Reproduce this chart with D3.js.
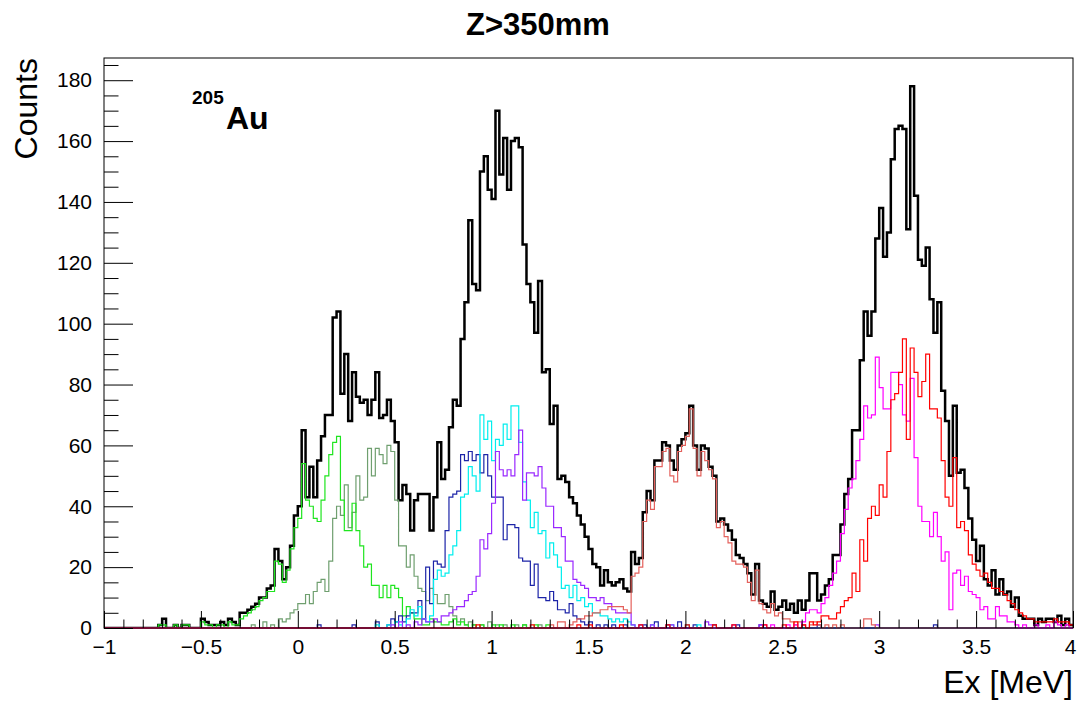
<!DOCTYPE html>
<html>
<head>
<meta charset="utf-8">
<script src="https://cdn.jsdelivr.net/npm/d3@7"></script>
<style>
  body { margin: 0; background: #fff; }
  text { font-family: "Liberation Sans", Arial, Helvetica, sans-serif; }
</style>
</head>
<body>
<svg id="chart" width="1077" height="702"></svg>
<script>
// binning of the Ex histograms (MeV)
const exLow = -1;
const exHigh = 4;
const binWidth = 0.02;
const countsTop = 187.3;

const xMajorTicks = [-1, -0.5, 0, 0.5, 1, 1.5, 2, 2.5, 3, 3.5, 4];
const yMajorTicks = [0, 20, 40, 60, 80, 100, 120, 140, 160, 180];

// every series: Ex of the low edge of its first listed bin + counts per 0.02 MeV bin
const totalFrom = -0.72;
const totalCounts = [
  1,3,0,0,1,0,1,1,0,0,0,
  3,2,1,1,1,2,1,3,2,1,
  5,5,6,7,8,10,10,13,14,26,
  22,16,20,27,37,40,65,43,53,43,
  55,63,70,70,102,104,77,90,68,84,
  76,74,75,70,75,84,69,70,75,68,
  61,42,47,44,32,42,44,44,44,32,
  43,61,49,52,66,75,73,95,107,134,
  113,111,150,155,144,141,170,149,161,144,
  160,161,158,126,113,107,97,114,84,85,
  67,73,49,50,48,43,41,37,34,30,
  26,21,20,14,19,15,14,15,16,13,
  12,25,21,23,38,45,42,55,55,61,
  60,55,52,60,62,64,73,60,52,60,
  59,53,50,35,36,34,32,29,24,23,
  21,18,11,21,9,8,7,12,6,7,
  9,6,8,5,9,6,9,18,18,9,
  11,14,16,24,24,34,44,49,65,65,
  88,104,96,104,128,138,122,130,154,164,
  165,164,131,178,142,121,119,125,108,97,
  107,78,68,50,73,51,52,46,36,29,
  22,27,16,14,19,11,16,11,12,7,
  10,4,3,3,3,1,3,2,3,3,
  2,4,1,3,1
];

const greenFrom = -0.72;
const greenCounts = [
  1,1,0,0,1,0,1,1,0,0,0,
  2,1,1,0,1,1,0,2,1,1,
  3,4,5,6,7,9,10,12,12,22,
  21,15,19,26,33,36,54,42,40,36,
  35,42,50,57,61,63,42,32,32,41,
  32,27,20,21,14,14,10,14,10,14,
  13,10,4,7,5,3,3,1,1,3,
  2,2,1,1,2,3,1,2,1,0,
  1,0,1,0,0,1,0,1,0,0,
  1,0,0,1,0,0,1,0,0,1
];

const sageFrom = -0.28;
const sageCounts = [
  0,0,1,0,0,2,0,1,0,
  3,2,3,5,6,8,8,11,8,12,
  15,16,12,22,36,40,37,47,33,38,
  50,42,43,59,50,59,57,54,60,58,
  42,27,27,20,24,17,13,12,9,13,
  11,8,8,11,7,4,2,3,1,2,
  1,0,1,0,2,0,1,0,1,0,
  0,1,0,1,0,0,0,1
];

const blueFrom = 0.10;
const blueCounts = [
  1,0,0,0,0,0,0,0,0,1,
  0,0,0,0,0,2,0,0,1,3,
  2,4,2,4,5,5,9,3,20,8,
  22,21,20,32,43,44,45,57,55,58,
  55,57,51,57,50,43,43,43,29,34,
  34,33,23,22,22,14,21,10,10,9,
  12,9,6,6,5,8,4,3,2,1,
  2,0,1,0,1,0,1,0,0,1,
  0,0,0,0,1,0,0,2,0,0,
  1,0,0,2,0,0,0,1,0,0,
  0,0,1,0,0,0,0,0,1,0,
  0,0,0,0,1,0,0,0,0,0,
  0,0,0,0,0,0,0,0,0,1,
  0,0,0,0,0,0,0,0,0,0,
  0,0,0,0,0,0,0,0,0,0,
  0,0,0,0,0,0,0,0,0,1
];

const cyanFrom = 0.40;
const cyanCounts = [
  1,0,0,1,0,2,1,0,3,6,
  4,7,3,2,4,16,19,17,18,24,
  27,32,43,44,53,50,45,70,62,68,
  55,62,60,67,62,73,73,61,48,42,
  33,38,31,32,23,28,24,20,13,14,
  10,14,9,10,7,8,5,5,4,4,
  3,2,3,2,3,2,1,0,1,0,
  0,1,0,0,0,0,1,0,0,0,
  1,0,0,1
];

const violetFrom = 0.48;
const violetCounts = [
  1,0,2,0,1,0,2,1,3,2,
  2,3,2,4,4,5,6,7,7,9,
  11,12,17,29,26,31,41,58,52,50,
  52,50,57,65,42,51,51,50,53,46,
  40,40,33,33,30,22,22,16,15,14,
  13,10,10,9,10,8,8,6,5,5,
  5,5,1,0,1,0,0,1,0,0,
  0,0,1,0,0,0,0,0,0,0,
  0,2,1,0,0,0,0,0,1,0,
  0,0,0,0,0,1,0,0,0,0,
  0,0,0,0,0,0,1,0,0,0,
  0,0,0,0,0,0,0,0,0,0,
  0,0,0,0,0,1
];

const salmonFrom = 1.30;
const salmonCounts = [
  1,0,2,2,0,1,2,3,3,4,
  4,5,5,6,6,7,7,7,7,6,
  5,17,18,20,35,42,39,53,53,58,
  59,50,48,58,60,63,72,59,50,58,
  55,52,49,33,35,30,28,22,21,21,
  20,15,9,19,8,6,5,8,4,5,
  3,3,2,1,2,1,0,1,2,1,
  0,1,0,1,0,1,0,0,0,0,
  0,3,3,1
];

const magentaFrom = 2.40;
const magentaCounts = [
  1,0,1,0,0,0,1,0,
  1,0,2,5,6,6,5,8,10,14,
  18,22,31,39,46,49,55,62,73,69,
  70,89,79,72,72,84,84,80,70,68,
  82,56,40,35,35,30,38,30,22,25,
  6,18,19,14,17,12,11,10,6,7,
  3,3,7,4,4,2,2,1,0,1,
  0,0,1,0,0,1,0,2,1,0,1,0
];

const redFrom = 0.92;
const redCounts = [
  1,0,0,0,0,0,0,0,0,0,
  0,0,0,0,1,0,0,0,0,0,
  0,0,0,0,0,0,1,0,0,1,
  0,0,0,0,0,0,0,1,0,0,
  0,0,1,0,0,0,0,0,0,1,
  0,0,0,0,1,0,0,0,0,0,
  0,1,0,0,0,0,1,0,0,0,
  0,0,0,0,1,0,0,0,0,1,
  0,0,2,0,1,0,2,1,2,4,
  4,3,3,5,7,9,10,18,12,29,
  22,36,40,37,47,43,58,75,77,84,
  95,62,92,84,76,81,90,72,72,69,
  55,43,40,56,33,35,32,24,21,19,
  17,18,15,13,13,12,11,9,8,6,
  5,4,3,3,2,2,2,2,2,3,
  2,2,2,1
];

// drawing order: total first, the gated spectra over it, red last
const series = [
  { from: totalFrom,   counts: totalCounts,   color: "#000000", width: 2.5 },
  { from: sageFrom,    counts: sageCounts,    color: "#6f9f6f", width: 1.2 },
  { from: greenFrom,   counts: greenCounts,   color: "#1fe51f", width: 1.2 },
  { from: blueFrom,    counts: blueCounts,    color: "#1c24a8", width: 1.2 },
  { from: cyanFrom,    counts: cyanCounts,    color: "#00eeee", width: 1.2 },
  { from: violetFrom,  counts: violetCounts,  color: "#9a28ff", width: 1.2 },
  { from: salmonFrom,  counts: salmonCounts,  color: "#e4615c", width: 1.2 },
  { from: magentaFrom, counts: magentaCounts, color: "#ff00ff", width: 1.2 },
  { from: redFrom,     counts: redCounts,     color: "#ff0000", width: 1.2 }
];

const svg = d3.select("#chart");
const frameLeft = 104, frameRight = 1073, frameTop = 58, frameBottom = 628;

const x = d3.scaleLinear().domain([exLow, exHigh]).range([frameLeft, frameRight]);
const y = d3.scaleLinear().domain([0, countsTop]).range([frameBottom, frameTop]);

const nBins = Math.round((exHigh - exLow) / binWidth);

// ROOT draws the outline over the whole axis range, empty bins on the baseline
function fullBins(from, counts) {
  const all = new Array(nBins).fill(0);
  const offset = Math.round((from - exLow) / binWidth);
  counts.forEach((c, i) => { if (offset + i < nBins) all[offset + i] = c; });
  return all;
}

function stepPoints(all) {
  const pts = [];
  all.forEach((c, i) => {
    const lo = exLow + i * binWidth;
    pts.push([lo, c], [lo + binWidth, c]);
  });
  return pts;
}

svg.append("clipPath").attr("id", "frameClip")
  .append("rect")
  .attr("x", frameLeft).attr("y", frameTop - 1)
  .attr("width", frameRight - frameLeft).attr("height", frameBottom - frameTop + 2);

const line = d3.line().x(d => x(d[0])).y(d => y(d[1]));

const plot = svg.append("g").attr("clip-path", "url(#frameClip)");
series.forEach(s => {
  plot.append("path")
    .attr("d", line(stepPoints(fullBins(s.from, s.counts))))
    .attr("fill", "none")
    .attr("stroke", s.color)
    .attr("stroke-width", s.width)
    .attr("stroke-linejoin", "miter");
});

// axes, ticks pointing inwards like ROOT
const fmt = d => (d < 0 ? "\u2212" : "") + Math.abs(d);

const xMinor = d3.range(-10, 41).map(k => k / 10).filter(v => !xMajorTicks.includes(v));
const yMinor = d3.range(0, 190, 5).filter(v => v % 20 !== 0 && v < countsTop);

const xAxisG = svg.append("g").attr("transform", `translate(0,${frameBottom})`)
  .call(d3.axisBottom(x).tickValues(xMajorTicks).tickFormat(fmt).tickSize(-17).tickPadding(11));
svg.append("g").attr("transform", `translate(0,${frameBottom})`)
  .call(d3.axisBottom(x).tickValues(xMinor).tickFormat("").tickSize(-8.5));

svg.append("g").attr("transform", `translate(${frameLeft},0)`)
  .call(d3.axisLeft(y).tickValues(yMajorTicks).tickFormat(fmt).tickSize(-29).tickPadding(12));
svg.append("g").attr("transform", `translate(${frameLeft},0)`)
  .call(d3.axisLeft(y).tickValues(yMinor).tickFormat("").tickSize(-14.5));

svg.selectAll(".domain").remove();
svg.selectAll(".tick line").attr("stroke", "#000").attr("stroke-width", 1);
svg.selectAll(".tick text").attr("font-size", 21).attr("fill", "#000")
  .attr("font-family", "'Liberation Sans', Arial, Helvetica, sans-serif");

// the last x label sits right at the canvas edge, keep it inside
xAxisG.selectAll(".tick text").filter(d => d === exHigh).attr("dx", -3);

// frame
svg.append("rect")
  .attr("x", frameLeft).attr("y", frameTop)
  .attr("width", frameRight - frameLeft).attr("height", frameBottom - frameTop)
  .attr("fill", "none").attr("stroke", "#000").attr("stroke-width", 1);

// titles
svg.append("text")
  .attr("x", 538).attr("y", 35)
  .attr("text-anchor", "middle")
  .attr("font-size", 31).attr("font-weight", "bold")
  .text("Z>350mm");

svg.append("text")
  .attr("x", frameRight).attr("y", 693)
  .attr("text-anchor", "end")
  .attr("font-size", 32)
  .text("Ex [MeV]");

svg.append("text")
  .attr("transform", `translate(37,${frameTop}) rotate(-90)`)
  .attr("text-anchor", "end")
  .attr("font-size", 32)
  .text("Counts");

svg.append("text")
  .attr("x", 192).attr("y", 104)
  .attr("font-size", 19).attr("font-weight", "bold")
  .text("205");
svg.append("text")
  .attr("x", 226).attr("y", 129)
  .attr("font-size", 32).attr("font-weight", "bold")
  .text("Au");
</script>
</body>
</html>
